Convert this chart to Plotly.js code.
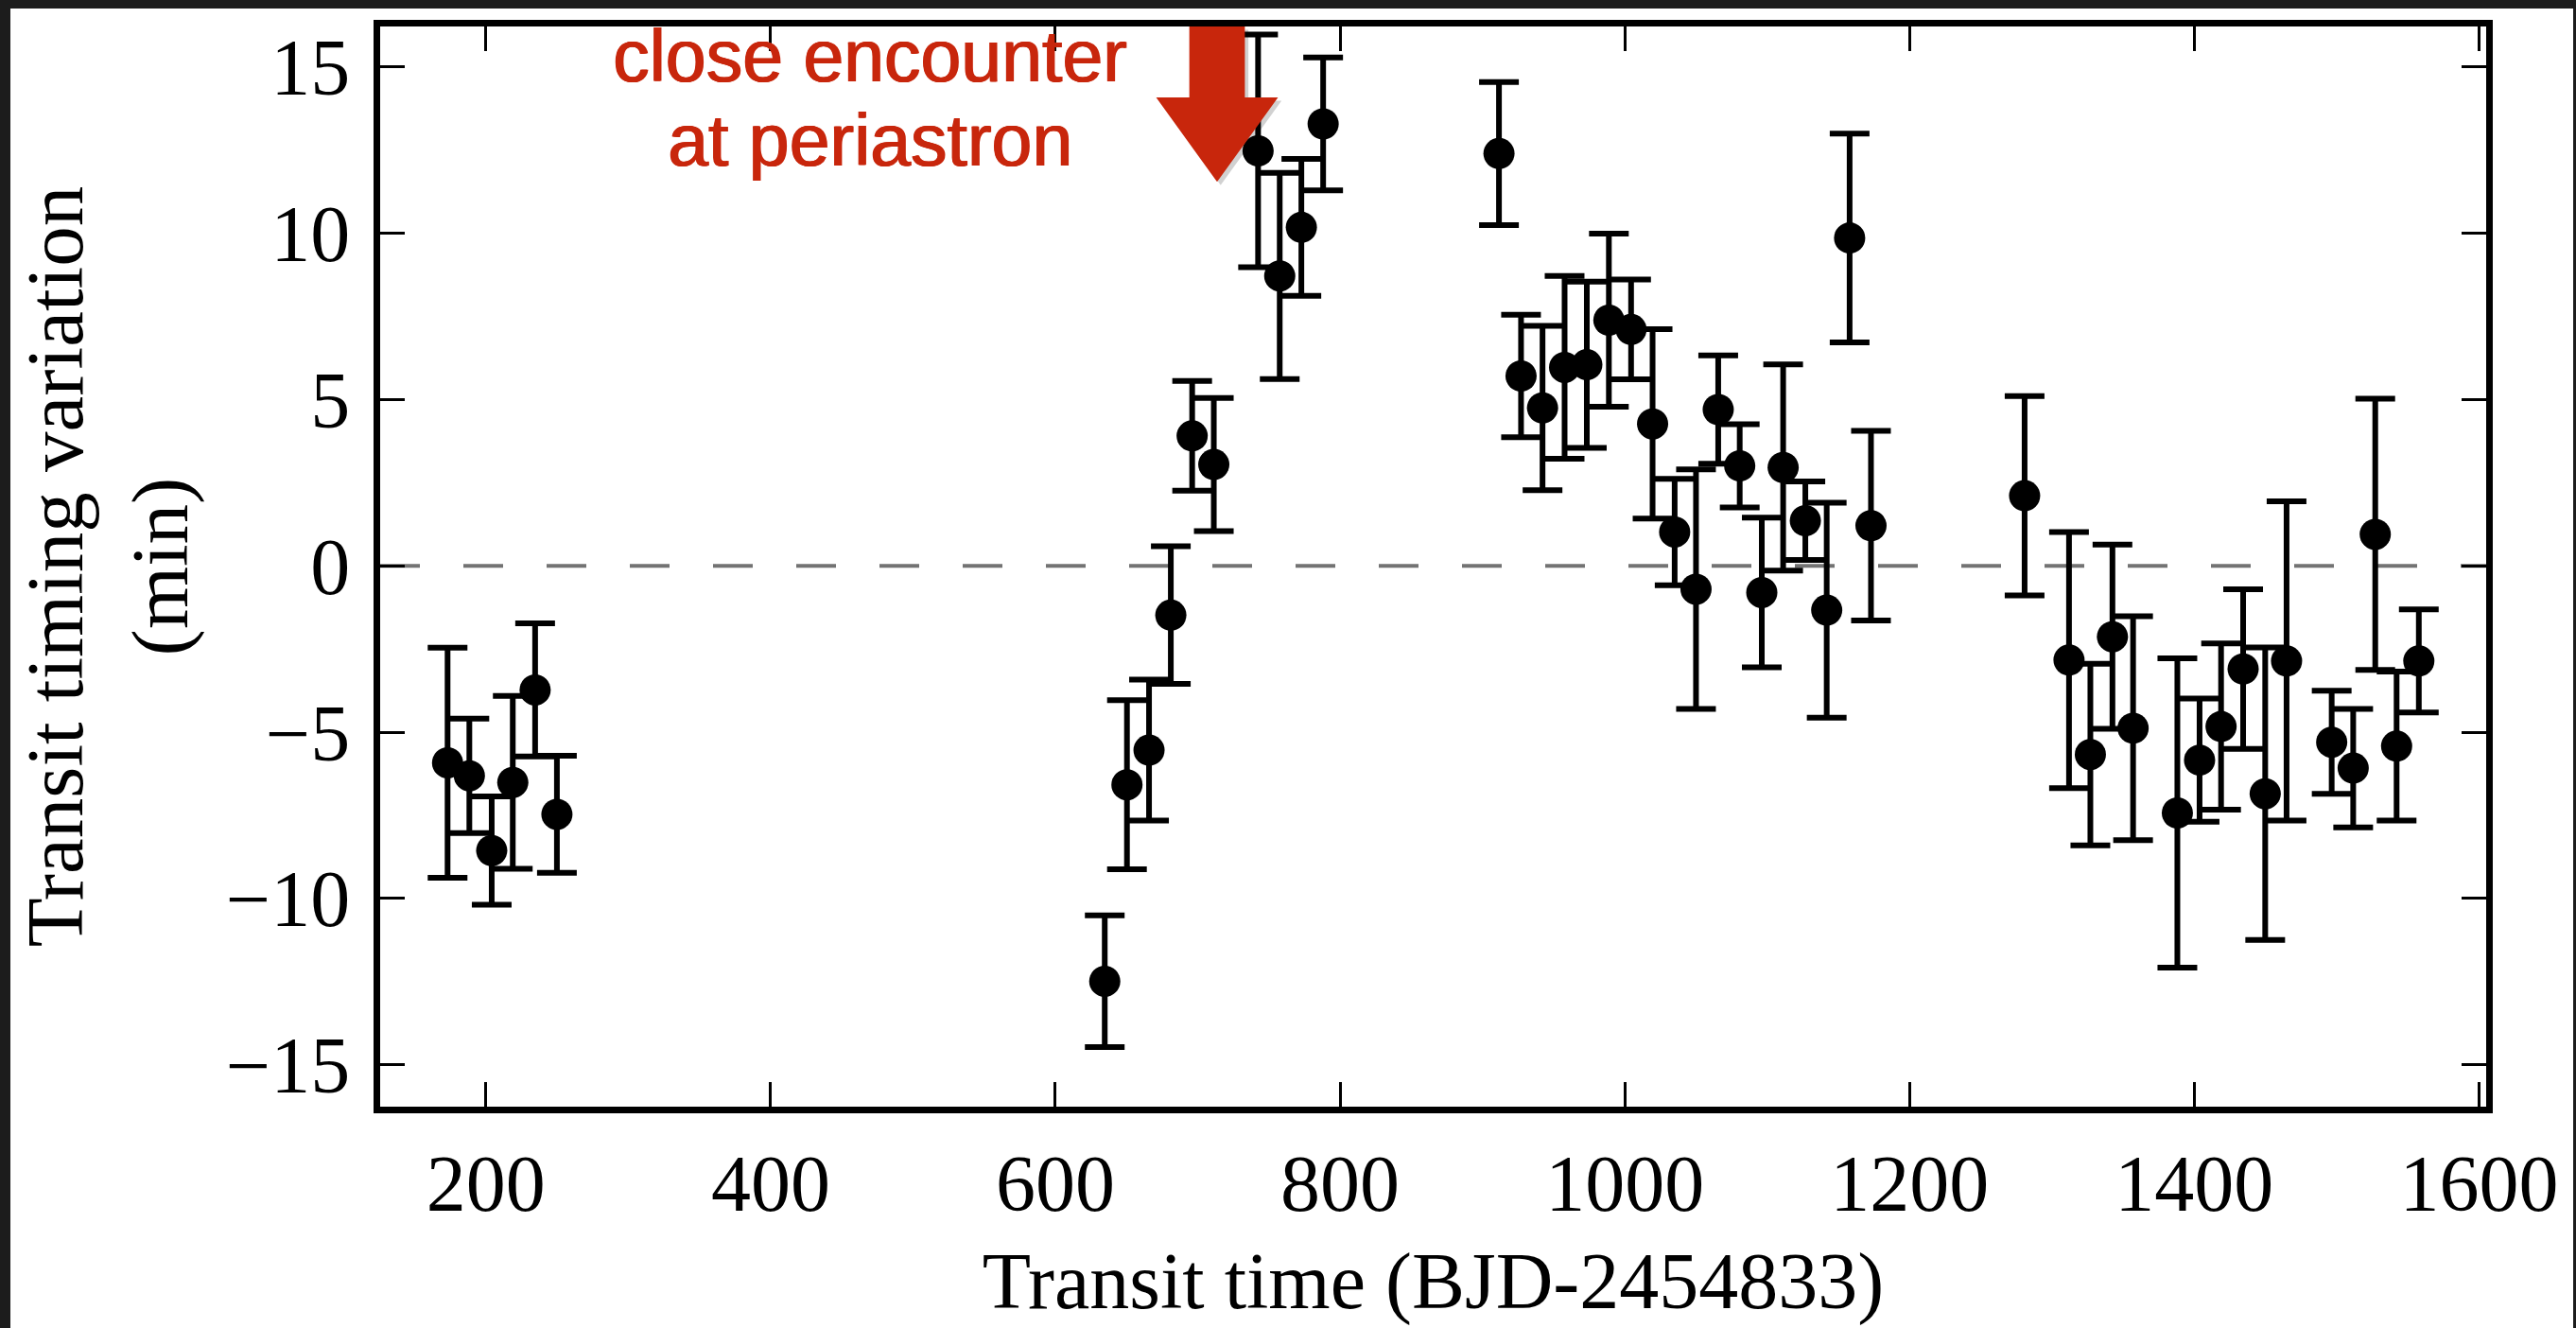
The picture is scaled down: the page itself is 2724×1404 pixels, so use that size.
<!DOCTYPE html>
<html>
<head>
<meta charset="utf-8">
<script src="https://cdn.plot.ly/plotly-3.0.1.min.js"></script>
<style>
  html, body { margin: 0; padding: 0; background: #1c1c1c; width: 2724px; height: 1404px; overflow: hidden; }
  #chart { position: absolute; left: 11px; top: 9px; width: 2710px; height: 1395px; background: #ffffff; }
</style>
</head>
<body>
<div id="chart"></div>
<script>
// Transit times (BJD-2454833)
const transitTime = [
  173.1, 188.4, 204.1, 218.9, 234.6, 249.9,
  634.7, 650.3, 665.8, 681.1, 696.1, 711.3, 742.4, 757.6, 772.8, 788.1,
  911.6, 927.1, 942.2, 957.7, 973.3, 988.8, 1004.4, 1019.5, 1035.0, 1050.0,
  1065.6, 1080.7, 1096.2, 1111.2, 1126.8, 1141.8, 1157.9, 1172.9,
  1280.8, 1312.0, 1327.0, 1342.5, 1357.0, 1388.1, 1403.7, 1418.8, 1434.3,
  1449.8, 1464.8, 1496.5, 1511.6, 1527.1, 1542.1, 1557.7
];
// Transit timing variation (min)
const ttv = [
  -5.92, -6.31, -8.56, -6.51, -3.73, -7.47,
  -12.49, -6.58, -5.54, -1.48, 3.91, 3.05, 12.48, 8.72, 10.18, 13.29,
  12.40, 5.71, 4.75, 5.97, 6.05, 7.39, 7.11, 4.27, 1.02, -0.70,
  4.70, 3.01, -0.80, 2.96, 1.36, -1.33, 9.86, 1.21,
  2.11, -2.83, -5.67, -2.13, -4.88, -7.43, -5.84, -4.83, -3.10,
  -6.85, -2.86, -5.30, -6.08, 0.95, -5.42, -2.86
];
// 1-sigma uncertainty (min)
const ttvErr = [
  3.46, 1.72, 1.63, 2.60, 2.00, 1.76,
  1.98, 2.54, 2.12, 2.07, 1.65, 2.00, 3.50, 3.10, 2.06, 2.00,
  2.15, 1.84, 2.47, 2.75, 2.50, 2.60, 1.50, 2.85, 1.60, 3.60,
  1.63, 1.25, 2.25, 3.10, 1.18, 3.23, 3.14, 2.85,
  3.00, 3.85, 2.73, 2.77, 3.37, 4.65, 1.85, 2.50, 2.40,
  4.40, 4.80, 1.55, 1.78, 4.08, 2.24, 1.55
];
const xTickVals = [200, 400, 600, 800, 1000, 1200, 1400, 1600];
const yTickVals = [-15, -10, -5, 0, 5, 10, 15];

const annotationLines = ["close encounter", "at periastron"];
const encounterTime = 713.6;   // position of the periastron arrow

const xRange = [125.75, 1605];
const yRange = [-16.26, 16.22];

const RED = '#c8260c';
const serif = 'Liberation Serif, Times New Roman, Times, serif';
const sans = 'Liberation Sans, Arial, Helvetica, sans-serif';

// arrow outline (relative to encounterTime, in axis units)
const sw = 19.5, hw = 42.8, yTop = yRange[1], yBase = 14.09, yTip = 11.55;
function arrowPath(dx, dy) {
  const x = encounterTime + dx;
  return 'M' + (x - sw) + ',' + (yTop + dy) +
         ' L' + (x + sw) + ',' + (yTop + dy) +
         ' L' + (x + sw) + ',' + (yBase + dy) +
         ' L' + (x + hw) + ',' + (yBase + dy) +
         ' L' + x + ',' + (yTip + dy) +
         ' L' + (x - hw) + ',' + (yBase + dy) +
         ' L' + (x - sw) + ',' + (yBase + dy) + ' Z';
}

const trace = {
  x: transitTime,
  y: ttv,
  type: 'scatter',
  mode: 'markers',
  marker: { color: '#000000', size: 33, line: { width: 0 } },
  error_y: { type: 'data', array: ttvErr, visible: true, color: '#000000', thickness: 6, width: 21 },
  hoverinfo: 'x+y',
  showlegend: false
};

const axisCommon = {
  showgrid: false,
  zeroline: false,
  showline: true,
  linecolor: '#000000',
  linewidth: 7,
  mirror: 'ticks',
  ticks: 'inside',
  ticklen: 26,
  tickwidth: 3,
  tickcolor: '#000000',
  tickfont: { family: serif, size: 84, color: '#000000' }
};

const annFont = { family: sans, size: 77, color: RED, shadow: '1px 0px 0px ' + RED + ', -0.5px 0px 0px ' + RED };

const layout = {
  width: 2710,
  height: 1395,
  margin: { l: 391, r: 92, t: 19, b: 234, pad: 0 },
  paper_bgcolor: '#ffffff',
  plot_bgcolor: '#ffffff',
  font: { family: serif, color: '#000000' },
  xaxis: Object.assign({}, axisCommon, {
    range: xRange,
    tickmode: 'array',
    tickvals: xTickVals,
    ticktext: xTickVals.map(String),
    ticklabelstandoff: 2,
    title: { text: 'Transit time (BJD-2454833)', font: { family: serif, size: 84, color: '#000000' }, standoff: 30 }
  }),
  yaxis: Object.assign({}, axisCommon, {
    range: yRange,
    tickmode: 'array',
    tickvals: yTickVals,
    ticklabelstandoff: 8,
    title: { text: 'Transit timing variation<br>(min)', font: { family: serif, size: 85, color: '#000000' }, standoff: 36 }
  }),
  shapes: [
    { type: 'line', xref: 'paper', x0: 0, x1: 1, yref: 'y', y0: 0, y1: 0,
      line: { color: '#737373', width: 4, dash: '42px,46px' }, layer: 'below' },
    { type: 'path', xref: 'x', yref: 'y', path: arrowPath(2.5, -0.1),
      fillcolor: 'rgba(0,0,0,0.18)', line: { width: 0 }, layer: 'above' },
    { type: 'path', xref: 'x', yref: 'y', path: arrowPath(0, 0),
      fillcolor: RED, line: { width: 0 }, layer: 'above' }
  ],
  annotations: [
    { text: annotationLines[0], xref: 'x', yref: 'y', x: 469.8, y: 15.35,
      xanchor: 'center', yanchor: 'middle', showarrow: false, font: annFont },
    { text: annotationLines[1], xref: 'x', yref: 'y', x: 469.8, y: 12.8,
      xanchor: 'center', yanchor: 'middle', showarrow: false, font: annFont }
  ]
};

Plotly.newPlot('chart', [trace], layout, { displayModeBar: false, staticPlot: true });
</script>
</body>
</html>
